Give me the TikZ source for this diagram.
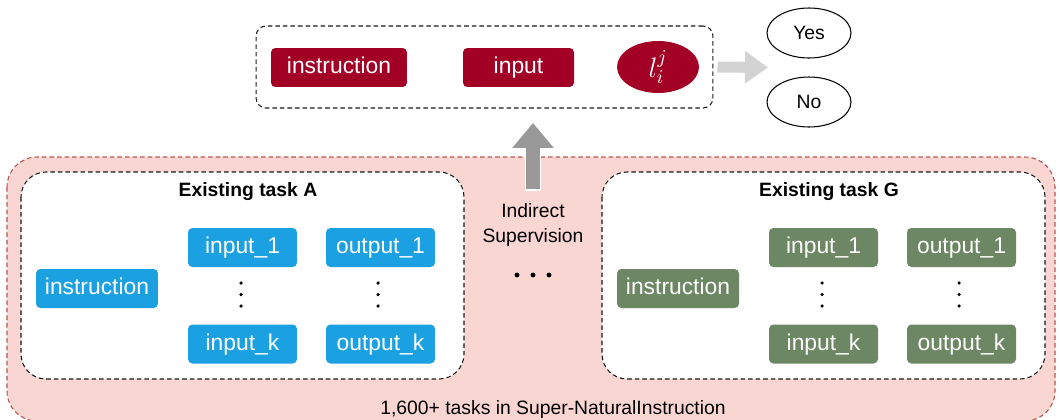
\RequirePackage{fix-cm}
\documentclass[tikz,border=0pt]{standalone}
\usepackage{fontspec}
\setmainfont{Liberation Sans}
\usepackage{tikz}
\usetikzlibrary{arrows.meta,shapes.geometric}
\usepackage{xcolor}

\definecolor{wine}{HTML}{A20025}
\definecolor{skyblue}{HTML}{1BA1E2}
\definecolor{sage}{HTML}{6D8764}
\definecolor{blush}{HTML}{F9D6D2}
\definecolor{brick}{HTML}{B85450}
\definecolor{palegray}{HTML}{D3D3D3}
\definecolor{midgray}{HTML}{999999}

\tikzset{
  tok/.style={rounded corners=2.5pt, text=white, minimum height=0.78cm, inner sep=0pt,
    text height=0.72em, text depth=0pt, font=\fontsize{13}{15}\selectfont},
  dashbox/.style={draw=black!90, dash pattern=on 2.6pt off 1.7pt, line width=0.6pt},
  small/.style={font=\fontsize{11}{14}\selectfont},
  choice/.style={ellipse, draw, line width=0.6pt, minimum width=1.68cm,
    minimum height=1.0cm, inner sep=0pt, text height=0.72em, text depth=0pt, small}
}

\begin{document}
\begin{tikzpicture}[x=0.02cm,y=-0.02cm]
  \useasboundingbox (0,0) rectangle (1060,419);

  % pool of training tasks
  \draw[brick, fill=blush, dash pattern=on 2.6pt off 1.7pt, line width=0.6pt,
    rounded corners=0.6cm] (7,157) rectangle (1055,421);
  \node[small] (pool) at (553,409) {1,600+ tasks in Super-NaturalInstruction};

  \foreach \t/\c [count=\k] [evaluate=\k as \x using (\k-1)*581+21] in {A/skyblue,G/sage}
  {
    \draw[dashbox, fill=white, rounded corners=0.5cm] (\x,172) rectangle (\x+443,379);
    \node[font=\fontsize{11}{13}\selectfont\bfseries] (title\t) at (\x+227,192) {Existing task \t};
    \node[tok, fill=\c, minimum width=2.44cm] (instr\t) at (\x+76,288.5) {instruction};
    \node[tok, fill=\c, minimum width=2.18cm] (inone\t) at (\x+221.5,247.5) {input\_1};
    \node[tok, fill=\c, minimum width=2.18cm] (ink\t) at (\x+221.5,344) {input\_k};
    \node[tok, fill=\c, minimum width=2.18cm] (outone\t) at (\x+359.5,247.5) {output\_1};
    \node[tok, fill=\c, minimum width=2.18cm] (outk\t) at (\x+359.5,344) {output\_k};
    \foreach \d in {283,294.5,306}
    {
      \fill (\x+220,\d) circle (1pt);
      \fill (\x+357,\d) circle (1pt);
    }
  }

  % query made from a task
  \node[dashbox, rounded corners=0.2cm, minimum width=9.14cm, minimum height=1.64cm] (query) at (484.5,67) {};
  \node[tok, fill=wine, minimum width=2.72cm] (qinstr) at (339,67.5) {instruction};
  \node[tok, fill=wine, minimum width=2.22cm] (qinput) at (518.5,67.5) {input};
  \node[ellipse, fill=wine, text=white, minimum width=1.64cm, minimum height=1.04cm,
    inner sep=0pt, font=\fontsize{16}{18}\selectfont] (label) at (658,67) {$l_i^j$};

  \node[choice] (yes) at (809,33) {Yes};
  \node[choice] (no) at (809,102) {No};
  \coordinate (fork) at (768,67.5);
  \draw[palegray, line width=0.22cm, -{Triangle[length=0.46cm,width=0.62cm]}]
    ([xshift=0.08cm]query.east) -- (fork);

  % indirect supervision
  \coordinate (sup) at (533,189);
  \coordinate (supend) at (533,123);
  \draw[white, line width=0.33cm] ([yshift=-0.03cm]sup) -- (533,150);
  \draw[midgray, line width=0.28cm, -{Triangle[length=0.5cm,width=0.8cm]}] (sup) -- (supend);
  \node[small, align=center] (indirect) at (533,225) {Indirect\\Supervision};
  \foreach \u in {-16,0,16}
    \fill (533+\u,275) circle (1.4pt);
\end{tikzpicture}
\end{document}
